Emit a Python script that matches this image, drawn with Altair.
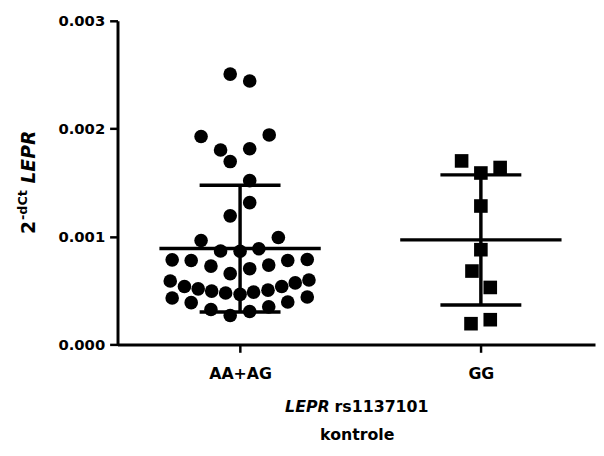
import altair as alt
import pandas as pd

groups = ["AA+AG", "GG"]

# AA+AG (circles): values and horizontal scatter offset (category units)
aa_values = [0.002506, 0.002442, 0.001927, 0.001942, 0.001802, 0.001814, 0.001695, 0.001518,
             0.001314, 0.001192, 0.000963, 0.000991, 0.000866, 0.000863, 0.000887,
             0.000784, 0.000778, 0.000726, 0.000656, 0.000702, 0.000735, 0.000778, 0.000787,
             0.000588, 0.000537, 0.000515, 0.000494, 0.000476, 0.000464, 0.000485, 0.000503,
             0.000537, 0.000570, 0.000597,
             0.000430, 0.000387, 0.000323, 0.000268, 0.000305, 0.000348, 0.000393, 0.000439]
aa_jitter = [-0.041, 0.040, -0.162, 0.121, -0.081, 0.040, -0.041, 0.040,
             0.040, -0.041, -0.162, 0.159, -0.081, 0.000, 0.078,
             -0.282, -0.203, -0.121, -0.041, 0.040, 0.119, 0.198, 0.279,
             -0.290, -0.231, -0.174, -0.118, -0.060, 0.000, 0.056, 0.116,
             0.173, 0.229, 0.286,
             -0.282, -0.203, -0.121, -0.041, 0.040, 0.119, 0.198, 0.279]

# GG (squares)
gg_values = [0.001701, 0.001589, 0.001640, 0.001283, 0.000878, 0.000680, 0.000528, 0.000192, 0.000229]
gg_jitter = [-0.080, 0.000, 0.080, 0.000, 0.000, -0.037, 0.039, -0.041, 0.039]

y_ticks = [0.0, 0.001, 0.002, 0.003]

rows = []
for v, j in zip(aa_values, aa_jitter):
    rows.append({"group": groups[0], "gi": 0, "jit": j, "value": v})
for v, j in zip(gg_values, gg_jitter):
    rows.append({"group": groups[1], "gi": 1, "jit": j, "value": v})
df = pd.DataFrame(rows)

FONT = "DejaVu Sans"

x_scale = alt.Scale(domain=[-0.509, 1.474], nice=False, zero=False)
y_scale = alt.Scale(domain=[0, 0.003], nice=False, zero=True)

x_axis = alt.Axis(values=[0, 1], labelExpr="datum.value == 0 ? 'AA+AG' : 'GG'",
                  title=None, grid=False, labelFontSize=16, labelPadding=14,
                  labelFont=FONT, labelFontWeight="bold", labelColor="black",
                  domainColor="black", domainWidth=3, tickColor="black",
                  tickWidth=2.5, tickSize=8, labelAngle=0)
y_axis = alt.Axis(values=y_ticks, format=".3f", title=None, grid=False,
                  labelFontSize=15, labelPadding=5, labelFont=FONT,
                  labelFontWeight="bold", labelColor="black",
                  domainColor="black", domainWidth=3, tickColor="black",
                  tickWidth=2.5, tickSize=8)

points = alt.Chart(df).transform_calculate(
    pos="datum.gi + datum.jit"
).mark_point(filled=True, opacity=1, color="black", size=190).encode(
    x=alt.X("pos:Q", scale=x_scale, axis=x_axis, title=None),
    y=alt.Y("value:Q", scale=y_scale, axis=y_axis, title=None),
    shape=alt.Shape("group:N", scale=alt.Scale(domain=groups, range=["circle", "square"]), legend=None),
)

stats = alt.Chart(df).transform_aggregate(
    mean="mean(value)", sd="stdev(value)", groupby=["group", "gi"]
).transform_calculate(
    lo="datum.mean - datum.sd", hi="datum.mean + datum.sd",
    mx1="datum.gi - 0.335", mx2="datum.gi + 0.335",
    cx1="datum.gi - 0.168", cx2="datum.gi + 0.168",
)

LW = 3.5
mean_line = stats.mark_rule(color="black", strokeWidth=LW).encode(
    x=alt.X("mx1:Q", scale=x_scale, title=None), x2="mx2:Q",
    y=alt.Y("mean:Q", scale=y_scale, title=None))
vline = stats.mark_rule(color="black", strokeWidth=LW).encode(
    x=alt.X("gi:Q", scale=x_scale, title=None),
    y=alt.Y("lo:Q", scale=y_scale, title=None), y2="hi:Q")
cap_hi = stats.mark_rule(color="black", strokeWidth=LW).encode(
    x=alt.X("cx1:Q", scale=x_scale, title=None), x2="cx2:Q",
    y=alt.Y("hi:Q", scale=y_scale, title=None))
cap_lo = stats.mark_rule(color="black", strokeWidth=LW).encode(
    x=alt.X("cx1:Q", scale=x_scale, title=None), x2="cx2:Q",
    y=alt.Y("lo:Q", scale=y_scale, title=None))


def label(txt, x, y, size, italic=False, align="left", angle=0):
    kw = dict(font=FONT, fontSize=size, fontWeight="bold", color="black",
              align=align, baseline="alphabetic")
    if italic:
        kw["fontStyle"] = "italic"
    if angle:
        kw["angle"] = angle
    return alt.Chart(pd.DataFrame({"t": [txt]})).mark_text(**kw).encode(
        x=alt.value(x), y=alt.value(y), text="t:N")


# x title (relative to plot origin)
xt1 = label("LEPR", 215, 397, 16, italic=True, align="right")
xt2 = label("rs1137101", 220, 397, 16)
xt3 = label("kontrole", 243, 425, 16, align="center")

# y title, rotated
yt1 = label("2", -84, 216, 19, angle=270)
yt2 = label("-dCt", -92, 202, 13, angle=270)
yt3 = label("LEPR", -84, 165, 19, italic=True, angle=270)

chart = alt.layer(
    points, mean_line, vline, cap_hi, cap_lo, xt1, xt2, xt3, yt1, yt2, yt3
).properties(
    width=484, height=328,
    autosize=alt.AutoSizeParams(type="none"),
    padding={"left": 111, "top": 10, "right": 1, "bottom": 100},
    background="white",
).configure_view(stroke=None)

chart.save("out.html", embed_options={"renderer": "svg", "actions": False})
